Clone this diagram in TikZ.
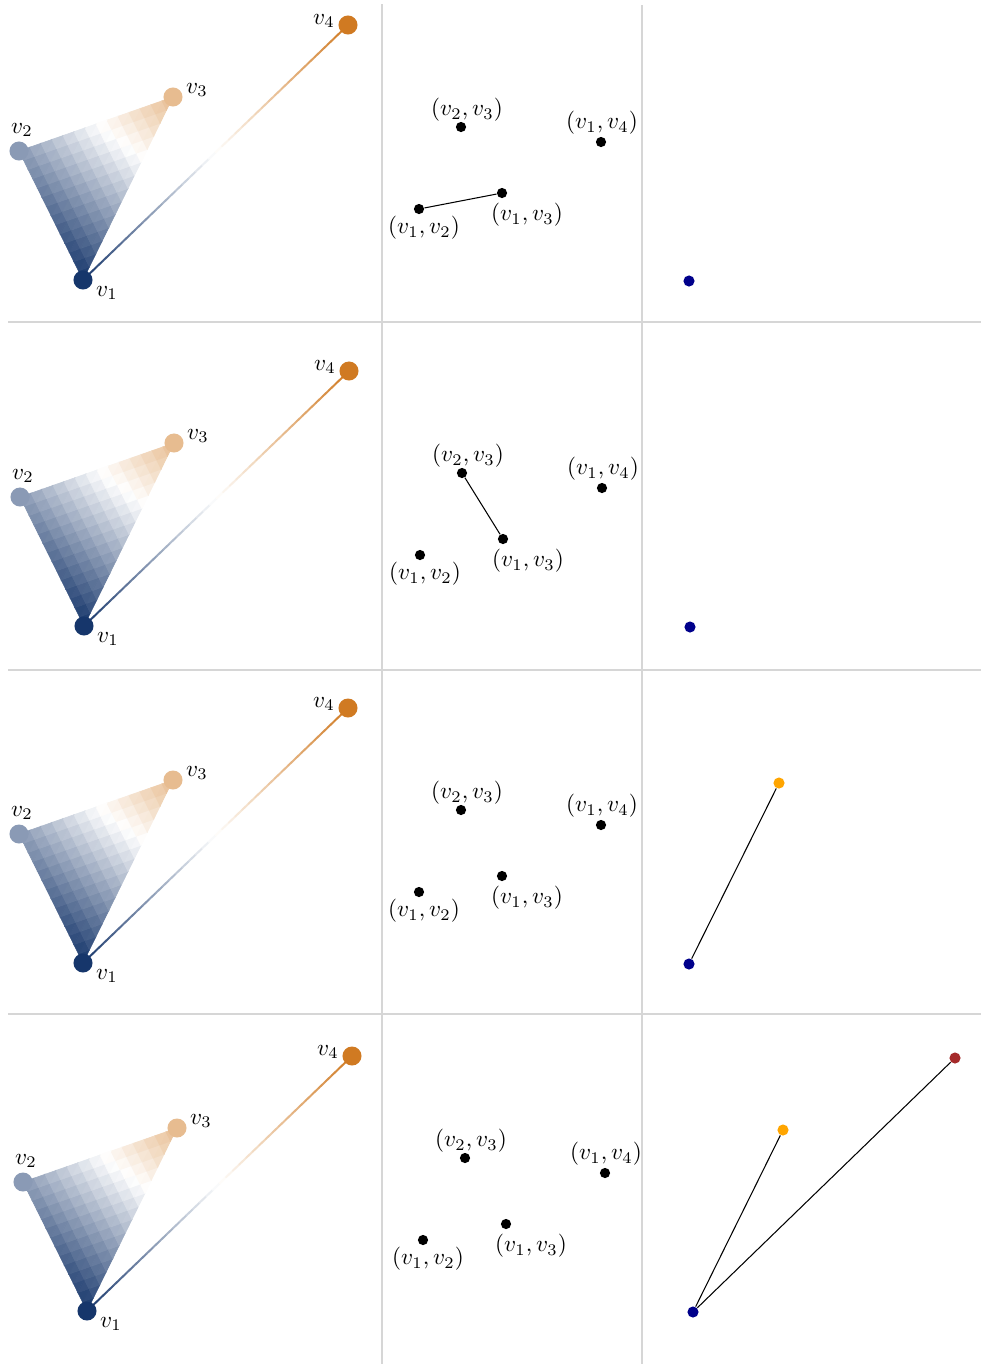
\documentclass[tikz,border=0pt]{standalone}
\usetikzlibrary{calc}
\definecolor{cb}{RGB}{22,54,107}
\definecolor{co}{RGB}{208,122,34}
\definecolor{gridgray}{RGB}{214,214,214}
\definecolor{pblue}{RGB}{0,0,139}
\definecolor{porange}{RGB}{255,165,0}
\definecolor{pred}{RGB}{165,42,42}
\colorlet{cbhalf}{white!50!cb}
\colorlet{cohalf}{white!50!co}
\colorlet{cmc}{white}
\newcommand{\setcm}[1]{%
  \pgfmathsetmacro{\myt}{#1}%
  \ifdim\myt pt<0.5pt
    \pgfmathsetmacro{\myp}{200*\myt}%
    \colorlet{cmc}{white!\myp!cb}%
  \else
    \pgfmathsetmacro{\myp}{200*(1-\myt)}%
    \colorlet{cmc}{white!\myp!co}%
  \fi}
\tikzset{
  vdot/.style={circle, inner sep=0pt, minimum size=8.2pt},
  edot/.style={circle, fill=black, inner sep=0pt, minimum size=4.4pt},
  pdot/.style={circle, inner sep=0pt, minimum size=4.8pt},
  lab/.style={inner sep=0pt},
  gridline/.style={draw=gridgray, line width=0.86pt},
  thinedge/.style={draw=black, line width=0.45pt},
  patch/.style={line width=0.25pt},
}
\newcommand{\drawrow}[3]{%
\begin{scope}[shift={(#1,#2)}]
  % shaded triangle v1 v2 v3
  \foreach \i in {0,...,13}{
    \pgfmathtruncatemacro{\jmax}{13-\i}
    \foreach \j in {0,...,\jmax}{
      \setcm{(0.25*(\i+1/3)+0.75*(\j+1/3))/14}
      \fill[patch,fill=cmc,draw=cmc]
        ({83-64*\i/14+90*\j/14},{280-129*\i/14-183*\j/14}) --
        ({83-64*(\i+1)/14+90*\j/14},{280-129*(\i+1)/14-183*\j/14}) --
        ({83-64*\i/14+90*(\j+1)/14},{280-129*\i/14-183*(\j+1)/14}) -- cycle;
      \pgfmathtruncatemacro{\ss}{\i+\j}
      \ifnum\ss<13
        \setcm{(0.25*(\i+2/3)+0.75*(\j+2/3))/14}
        \fill[patch,fill=cmc,draw=cmc]
          ({83-64*(\i+1)/14+90*\j/14},{280-129*(\i+1)/14-183*\j/14}) --
          ({83-64*(\i+1)/14+90*(\j+1)/14},{280-129*(\i+1)/14-183*(\j+1)/14}) --
          ({83-64*\i/14+90*(\j+1)/14},{280-129*\i/14-183*(\j+1)/14}) -- cycle;
      \fi
    }
  }
  \coordinate (p1#3) at (83,280);
  \coordinate (p2#3) at (19,151);
  \coordinate (p3#3) at (173,97);
  \coordinate (p4#3) at (348,25);
  % gradient edge v1 -- v4
  \foreach \k in {0,...,39}{
    \setcm{(\k+0.5)/40}
    \pgfmathsetmacro{\ka}{\k/40}
    \pgfmathsetmacro{\kb}{(\k+1)/40}
    \draw[cmc, line width=0.86pt, line cap=round] ($(p1#3)!\ka!(p4#3)$) -- ($(p1#3)!\kb!(p4#3)$);
  }
  \node[vdot, fill=cb] (v1#3) at (p1#3) {};
  \node[vdot, fill=cbhalf] (v2#3) at (p2#3) {};
  \node[vdot, fill=cohalf] (v3#3) at (p3#3) {};
  \node[vdot, fill=co] (v4#3) at (p4#3) {};
  \node[lab] (l1#3) at (107,293) {$v_1$};
  \node[lab] (l2#3) at (22,130) {$v_2$};
  \node[lab] (l3#3) at (197,90) {$v_3$};
  \node[lab] (l4#3) at (324,21) {$v_4$};
  % middle panel
  \node[edot] (e12#3) at (419,209) {};
  \node[edot] (e13#3) at (502,193) {};
  \node[edot] (e23#3) at (461,127) {};
  \node[edot] (e14#3) at (601,142) {};
  \node[lab] (m12#3) at (424,228) {$(v_1,v_2)$};
  \node[lab] (m13#3) at (527,215) {$(v_1,v_3)$};
  \node[lab] (m23#3) at (467,110) {$(v_2,v_3)$};
  \node[lab] (m14#3) at (602,123) {$(v_1,v_4)$};
  % right panel
  \node[pdot, fill=pblue] (b1#3) at (689,281) {};
\end{scope}}
\begin{document}
\begin{tikzpicture}[x=0.431pt, y=-0.431pt]
  \useasboundingbox (0,0) rectangle (981,1364);
  \fill[white] (0,0) rectangle (981,1364);
  % grid
  \draw[gridline] (8,322) -- (981,322);
  \draw[gridline] (8,670) -- (981,670);
  \draw[gridline] (8,1014) -- (981,1014);
  \draw[gridline] (382,4) -- (382,1364);
  \draw[gridline] (642,5) -- (642,1364);
  % rows
  \drawrow{0}{0}{a}
  \drawrow{1}{346}{b}
  \drawrow{0}{683}{c}
  \drawrow{4}{1031}{d}
  % row-specific content
  \draw[thinedge] (e12a) -- (e13a);
  \draw[thinedge] (e23b) -- (e13b);
  \node[pdot, fill=porange] (b3c) at (779,783) {};
  \draw[thinedge] (b1c) -- (b3c);
  \node[pdot, fill=porange] (b3d) at (783,1130) {};
  \node[pdot, fill=pred] (b4d) at (955,1058) {};
  \draw[thinedge] (b1d) -- (b3d);
  \draw[thinedge] (b1d) -- (b4d);
\end{tikzpicture}
\end{document}
